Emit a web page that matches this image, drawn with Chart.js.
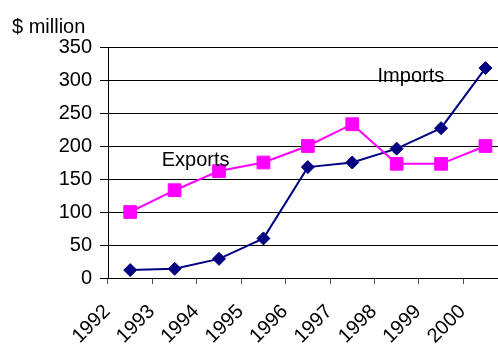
<!DOCTYPE html>
<html>
<head>
<meta charset="utf-8">
<script src="https://cdn.jsdelivr.net/npm/chart.js@4"></script>
<style>
  html, body { margin: 0; padding: 0; background: #fff; overflow: hidden; }
  #wrap { width: 498px; height: 344px; overflow: hidden; }
</style>
</head>
<body>
<div id="wrap"><canvas id="chart1" width="519" height="344"></canvas></div>
<script>
const years = ['1992', '1993', '1994', '1995', '1996', '1997', '1998', '1999', '2000'];
const imports = [12, 14, 29, 60, 168, 175, 196, 227, 318];
const exports = [100, 133, 162, 175, 200, 233, 173, 173, 200];
const yTicks = [0, 50, 100, 150, 200, 250, 300, 350];

const FONT = 'Liberation Sans, Arial, sans-serif';

// text labels drawn inside the plot ("$ million", series names)
const textPlugin = {
    id: 'textLabels',
    afterDatasetsDraw(chart) {
        const c = chart.ctx;
        const x = chart.scales.x, y = chart.scales.y;
        c.save();
        c.fillStyle = '#000';
        c.font = '20px ' + FONT;
        c.textAlign = 'left';
        c.textBaseline = 'alphabetic';
        c.fillText('$ million', 12, chart.chartArea.top - 14);
        c.fillText('Exports', x.getPixelForValue(0.71), y.getPixelForValue(169));
        c.fillText('Imports', x.getPixelForValue(5.57), y.getPixelForValue(297));
        c.restore();
    }
};

document.addEventListener("DOMContentLoaded", function() {
    const ctx = document.getElementById('chart1');

    new Chart(ctx, {
        type: 'line',
        data: {
            labels: years,
            datasets: [
                {
                    label: 'Imports',
                    data: imports,
                    borderColor: '#000080',
                    backgroundColor: '#000080',
                    borderWidth: 2,
                    pointStyle: 'rectRot',
                    pointRadius: 6.5,
                    pointBorderWidth: 1,
                    tension: 0,
                    order: 1
                },
                {
                    label: 'Exports',
                    data: exports,
                    borderColor: '#ff00ff',
                    backgroundColor: '#ff00ff',
                    borderWidth: 2,
                    pointStyle: 'rect',
                    pointRadius: 9,
                    pointBorderWidth: 1,
                    tension: 0,
                    order: 0
                }
            ]
        },
        options: {
            responsive: false,
            animation: false,
            layout: { padding: { top: 47, left: 0, right: 0, bottom: 0 } },
            plugins: {
                legend: { display: false },
                tooltip: { enabled: false }
            },
            scales: {
                x: {
                    offset: true,
                    border: { color: '#000', width: 1 },
                    grid: {
                        offset: true,
                        drawOnChartArea: false,
                        drawTicks: true,
                        tickLength: 6,
                        color: '#555'
                    },
                    ticks: {
                        color: '#000',
                        font: { family: FONT, size: 20 },
                        minRotation: 45,
                        maxRotation: 45,
                        padding: 16,
                        labelOffset: -23,
                        autoSkip: false
                    },
                    afterFit(scale) { scale.height = 66; }
                },
                y: {
                    min: 0,
                    max: 350,
                    border: { color: '#000', width: 1 },
                    grid: {
                        color: '#000',
                        lineWidth: 1,
                        drawTicks: true,
                        tickLength: 8
                    },
                    afterBuildTicks(scale) {
                        scale.ticks = yTicks.map(v => ({ value: v }));
                    },
                    ticks: {
                        color: '#000',
                        font: { family: FONT, size: 20 },
                        padding: 8
                    },
                    afterFit(scale) { scale.width = 108; }
                }
            }
        },
        plugins: [textPlugin]
    });
});
</script>
</body>
</html>
